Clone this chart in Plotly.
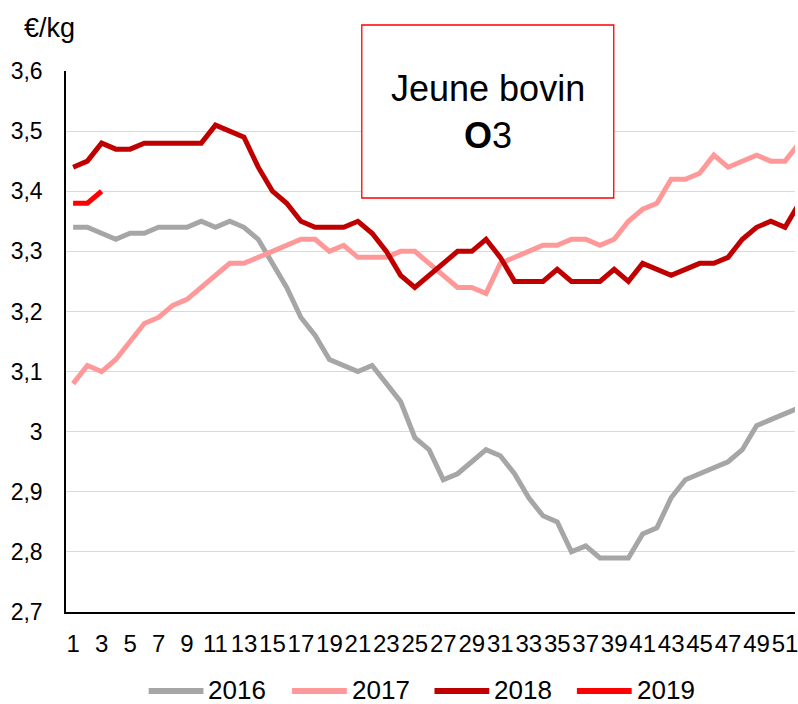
import plotly.graph_objects as go

# Weekly prices, young bull O3 (EUR/kg)
weeks = list(range(1, 53))

p2016 = [3.34, 3.34, 3.33, 3.32, 3.33, 3.33, 3.34, 3.34, 3.34, 3.35,
         3.34, 3.35, 3.34, 3.32, 3.28, 3.24, 3.19, 3.16, 3.12, 3.11,
         3.10, 3.11, 3.08, 3.05, 2.99, 2.97, 2.92, 2.93, 2.95, 2.97,
         2.96, 2.93, 2.89, 2.86, 2.85, 2.80, 2.81, 2.79, 2.79, 2.79,
         2.83, 2.84, 2.89, 2.92, 2.93, 2.94, 2.95, 2.97, 3.01, 3.02,
         3.03, 3.04]

p2017 = [3.08, 3.11, 3.10, 3.12, 3.15, 3.18, 3.19, 3.21, 3.22, 3.24,
         3.26, 3.28, 3.28, 3.29, 3.30, 3.31, 3.32, 3.32, 3.30, 3.31,
         3.29, 3.29, 3.29, 3.30, 3.30, 3.28, 3.26, 3.24, 3.24, 3.23,
         3.28, 3.29, 3.30, 3.31, 3.31, 3.32, 3.32, 3.31, 3.32, 3.35,
         3.37, 3.38, 3.42, 3.42, 3.43, 3.46, 3.44, 3.45, 3.46, 3.45,
         3.45, 3.48]

p2018 = [3.44, 3.45, 3.48, 3.47, 3.47, 3.48, 3.48, 3.48, 3.48, 3.48,
         3.51, 3.50, 3.49, 3.44, 3.40, 3.38, 3.35, 3.34, 3.34, 3.34,
         3.35, 3.33, 3.30, 3.26, 3.24, 3.26, 3.28, 3.30, 3.30, 3.32,
         3.29, 3.25, 3.25, 3.25, 3.27, 3.25, 3.25, 3.25, 3.27, 3.25,
         3.28, 3.27, 3.26, 3.27, 3.28, 3.28, 3.29, 3.32, 3.34, 3.35,
         3.34, 3.38]

p2019 = [3.38, 3.38, 3.40]

series_names = ["2016", "2017", "2018", "2019"]
series_values = [p2016, p2017, p2018, p2019]
series_colors = ["#A6A6A6", "#FF9999", "#C00000", "#FF0000"]

x_tickvals = list(range(1, 52, 2))
x_ticktext = [str(v) for v in x_tickvals]
y_tickvals = [2.7, 2.8, 2.9, 3.0, 3.1, 3.2, 3.3, 3.4, 3.5, 3.6]
y_ticktext = ["2,7", "2,8", "2,9", "3", "3,1", "3,2", "3,3", "3,4", "3,5", "3,6"]

FONT = "Liberation Sans, Arial, sans-serif"
W, H = 798, 704
ML, MR, MT, MB = 66, 0, 71, 92
PW, PH = W - ML - MR, H - MT - MB


def px_x(x):
    return (x - ML) / PW


def px_y(y):
    return (H - MB - y) / PH


fig = go.Figure()
for name, vals, col in zip(series_names, series_values, series_colors):
    fig.add_trace(go.Scatter(
        x=weeks[:len(vals)], y=vals, name=name, mode="lines",
        line=dict(color=col, width=5), showlegend=False,
    ))

shapes = []
annotations = []

# Title box
shapes.append(dict(type="rect", xref="paper", yref="paper",
                   x0=px_x(363), x1=px_x(616), y0=px_y(198), y1=px_y(25),
                   line=dict(color="#FF0000", width=1.3), fillcolor="white",
                   layer="above"))
annotations.append(dict(xref="paper", yref="paper", x=px_x(489.5), y=px_y(112),
                        xanchor="center", yanchor="middle", showarrow=False,
                        text="Jeune bovin<br><b>O</b>3",
                        font=dict(family=FONT, size=36, color="black")))

# Unit label
annotations.append(dict(xref="paper", yref="paper", x=px_x(49), y=px_y(28),
                        xanchor="center", yanchor="middle", showarrow=False,
                        text="€/kg", font=dict(family=FONT, size=27, color="black")))

# Legend drawn below the plot
leg_line_x = [149, 293, 436, 579]
leg_y = 690
for lx, name, col in zip(leg_line_x, series_names, series_colors):
    shapes.append(dict(type="line", xref="paper", yref="paper",
                       x0=px_x(lx), x1=px_x(lx + 55), y0=px_y(leg_y + 1), y1=px_y(leg_y + 1),
                       line=dict(color=col, width=6)))
    annotations.append(dict(xref="paper", yref="paper", x=px_x(lx + 58), y=px_y(leg_y),
                            xanchor="left", yanchor="middle", showarrow=False,
                            text=name, font=dict(family=FONT, size=26, color="black")))

fig.update_layout(
    width=W, height=H, autosize=False,
    margin=dict(l=ML, r=MR, t=MT, b=MB, pad=0),
    paper_bgcolor="white", plot_bgcolor="white",
    font=dict(family=FONT, color="black"),
    shapes=shapes, annotations=annotations,
    showlegend=False,
)
fig.update_xaxes(
    range=[0.5, 51.7], tickvals=x_tickvals, ticktext=x_ticktext,
    showgrid=False, zeroline=False, showline=True, linecolor="black", linewidth=1.5,
    ticks="", tickangle=0, ticklabeloverflow="allow",
    tickfont=dict(family=FONT, size=24, color="black"),
    ticklabelstandoff=9,
)
fig.update_yaxes(
    range=[2.7, 3.6], tickvals=y_tickvals, ticktext=y_ticktext,
    showgrid=True, gridcolor="#D9D9D9", gridwidth=1.3, zeroline=False,
    showline=True, linecolor="black", linewidth=1.5,
    ticks="", tickfont=dict(family=FONT, size=23, color="black"),
    ticklabelstandoff=17,
)

fig.write_html("out.html")
